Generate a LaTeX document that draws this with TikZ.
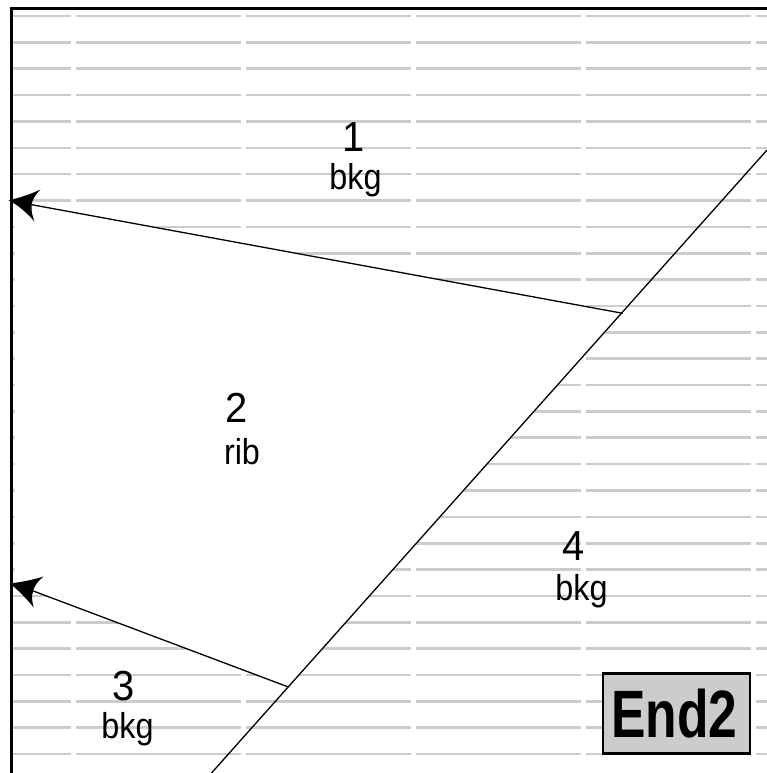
\documentclass[tikz,border=0pt]{standalone}
\usepackage{fontspec}
\setmainfont{Liberation Sans}
\tikzset{
  hatchline/.style={draw=black!20,line width=2.6pt},
  frameline/.style={draw=black,line width=2.8pt},
  edgeline/.style={draw=black,line width=1.3pt},
  headshape/.style={fill=black,draw=none},
  numtext/.style={font=\fontsize{42}{42}\selectfont,inner sep=0pt,xscale=.95},
  kindtext/.style={font=\fontsize{36}{36}\selectfont,inner sep=0pt,xscale=.9},
  endbox/.style={draw=black,fill=black!20,line width=2.4pt,inner sep=0pt,minimum width=147pt,minimum height=80pt}
}
\begin{document}
\begin{tikzpicture}[x=1pt,y=-1pt]
\useasboundingbox (0,0) rectangle (767,773);
\fill[white] (0,0) rectangle (767,773);
% hatching
\foreach \k in {0,...,28}{
  \pgfmathsetmacro{\yy}{16+26.36*\k}
  \draw[hatchline] (12,\yy) -- (71,\yy);
  \draw[hatchline] (76,\yy) -- (241,\yy);
  \draw[hatchline] (246,\yy) -- (411,\yy);
  \draw[hatchline] (416,\yy) -- (581,\yy);
  \draw[hatchline] (586,\yy) -- (751,\yy);
  \draw[hatchline] (756,\yy) -- (767,\yy);
}
% coordinates
\coordinate (tipA) at (8.5,200.3);
\coordinate (neckA) at (31.7,204.7);
\coordinate (footA) at (622.7,313.3);
\coordinate (tipB) at (10,583.5);
\coordinate (neckB) at (33.3,591);
\coordinate (footB) at (287.6,686.7);
\coordinate (diagTop) at (767,150);
\coordinate (diagBot) at (211.5,773);
% rib region
\fill[white] (14.5,200.3) -- (footA) -- (footB) -- (14.5,583.5) -- cycle;
% frame
\draw[frameline] (11.3,773) -- (11.3,8.6) -- (767,8.6);
% connectors
\draw[edgeline] (diagTop) -- (diagBot);
\draw[edgeline] (footA) -- (neckA);
\draw[edgeline] (footB) -- (neckB);
\fill[headshape] (tipA) .. controls (19,198) and (30,194.5) .. (40.5,189.5)
  .. controls (35,195) and (32,200) .. (neckA)
  .. controls (31,210) and (32,215) .. (34.5,221.5)
  .. controls (26,212) and (18,205) .. (tipA) -- cycle;
\fill[headshape] (tipB) .. controls (21,582) and (33,580) .. (43.5,576.5)
  .. controls (38,581) and (34,586) .. (neckB)
  .. controls (31,596) and (32,601) .. (33.7,607.5)
  .. controls (26,598) and (18,590) .. (tipB) -- cycle;
% labels
\node[numtext] (n1) at (353.5,137) {1};
\node[kindtext] (k1) at (355.5,180) {bkg};
\node[numtext] (n2) at (237,408) {2};
\node[kindtext] (k2) at (242,452) {rib};
\node[numtext] (n3) at (124,686) {3};
\node[kindtext] (k3) at (127.5,729.5) {bkg};
\node[numtext] (n4) at (574,546) {4};
\node[kindtext] (k4) at (581.5,591.5) {bkg};
\node[endbox] (endb) at (676.4,713.3) {};
\node[inner sep=0pt,font=\fontsize{67}{67}\selectfont\bfseries,xscale=.77] (endt) at (674.5,713.5) {End2};
\end{tikzpicture}
\end{document}
